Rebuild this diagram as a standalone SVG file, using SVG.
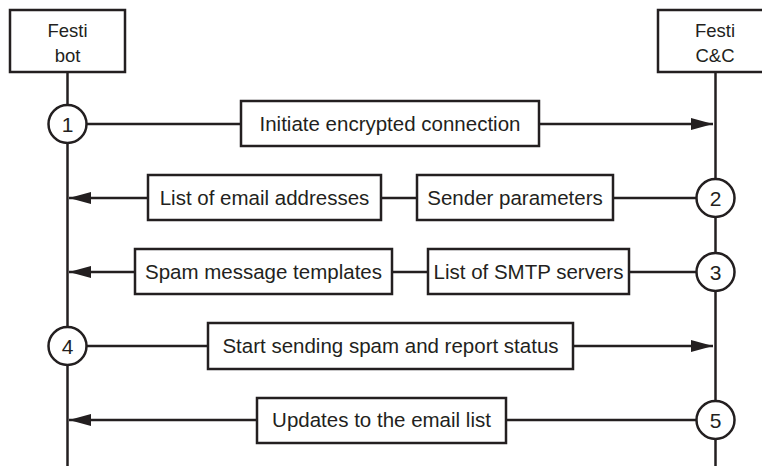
<svg xmlns="http://www.w3.org/2000/svg" width="762" height="466" viewBox="0 0 762 466">
<style>
.box{fill:#fff;stroke:#231f20;stroke-width:2.5}
.ln{fill:none;stroke:#231f20;stroke-width:2.5}
.t{font-family:"Liberation Sans",Arial,sans-serif;font-size:20.5px;fill:#231f20;text-anchor:middle}
.h{font-size:18.5px}
.n{font-size:21px}
</style>
<defs>
<marker id="ah" markerUnits="userSpaceOnUse" markerWidth="24" markerHeight="14" refX="22" refY="6" orient="auto">
<path d="M0,0 L22,6 L0,12 Z" fill="#231f20"/>
</marker>
</defs>
<g id="connectors">
<line class="ln" x1="67.5" y1="72" x2="67.5" y2="466"/>
<line class="ln" x1="715.5" y1="72" x2="715.5" y2="466"/>
<line class="ln" x1="86" y1="124" x2="241" y2="124"/>
<line class="ln" x1="539" y1="124" x2="713" y2="124" marker-end="url(#ah)"/>
<line class="ln" x1="696" y1="198" x2="613" y2="198"/>
<line class="ln" x1="417" y1="198" x2="381" y2="198"/>
<line class="ln" x1="148" y1="198" x2="69" y2="198" marker-end="url(#ah)"/>
<line class="ln" x1="696" y1="272" x2="629" y2="272"/>
<line class="ln" x1="428" y1="272" x2="392" y2="272"/>
<line class="ln" x1="135" y1="272" x2="69" y2="272" marker-end="url(#ah)"/>
<line class="ln" x1="86" y1="346" x2="208" y2="346"/>
<line class="ln" x1="573" y1="346" x2="713" y2="346" marker-end="url(#ah)"/>
<line class="ln" x1="696" y1="420" x2="506" y2="420"/>
<line class="ln" x1="257" y1="420" x2="69" y2="420" marker-end="url(#ah)"/>
</g>
<g id="festi-bot">
<rect class="box" x="10" y="10" width="115" height="62"/>
<text class="t h" x="67.5" y="37">Festi</text>
<text class="t h" x="67.5" y="62">bot</text>
</g>
<g id="festi-cc">
<rect class="box" x="658" y="10" width="115" height="62"/>
<text class="t h" x="715" y="37">Festi</text>
<text class="t h" x="715" y="62">C&amp;C</text>
</g>
<g id="step1"><circle class="box" cx="67.5" cy="124" r="19"/><text class="t n" x="67.5" y="131.5">1</text></g>
<g id="step2"><circle class="box" cx="715.5" cy="198" r="19"/><text class="t n" x="715.5" y="205.5">2</text></g>
<g id="step3"><circle class="box" cx="715.5" cy="272" r="19"/><text class="t n" x="715.5" y="279.5">3</text></g>
<g id="step4"><circle class="box" cx="67.5" cy="346" r="19"/><text class="t n" x="67.5" y="353.5">4</text></g>
<g id="step5"><circle class="box" cx="715.5" cy="420" r="19"/><text class="t n" x="715.5" y="427.5">5</text></g>
<g id="msg-initiate"><rect class="box" x="241" y="101" width="298" height="45"/><text class="t" x="390" y="130.5">Initiate encrypted connection</text></g>
<g id="msg-email-list"><rect class="box" x="148" y="175" width="233" height="45"/><text class="t" x="264.5" y="204.5">List of email addresses</text></g>
<g id="msg-sender"><rect class="box" x="417" y="175" width="196" height="45"/><text class="t" x="515" y="204.5">Sender parameters</text></g>
<g id="msg-templates"><rect class="box" x="135" y="249" width="257" height="45"/><text class="t" x="263.5" y="278.5">Spam message templates</text></g>
<g id="msg-smtp"><rect class="box" x="428" y="249" width="201" height="45"/><text class="t" x="528.5" y="278.5">List of SMTP servers</text></g>
<g id="msg-start"><rect class="box" x="208" y="323" width="365" height="46"/><text class="t" x="390.5" y="352.5">Start sending spam and report status</text></g>
<g id="msg-updates"><rect class="box" x="257" y="398" width="249" height="45"/><text class="t" x="381.5" y="426.5">Updates to the email list</text></g>
</svg>
